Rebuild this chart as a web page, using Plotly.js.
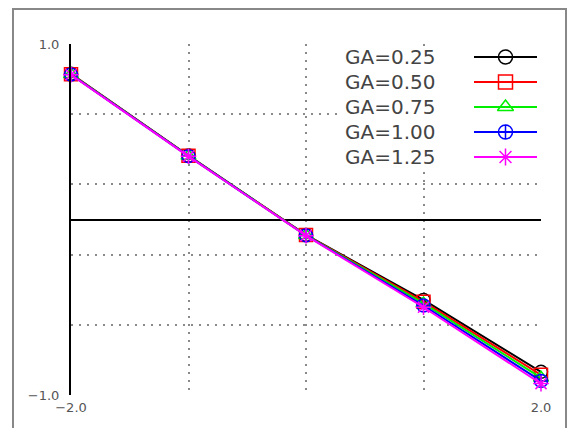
<!DOCTYPE html>
<html>
<head>
<meta charset="utf-8">
<script src="https://cdn.plot.ly/plotly-3.0.1.min.js"></script>
<style>html,body{margin:0;padding:0;background:#fff;}#chart{width:568px;height:428px;}</style>
</head>
<body>
<div id="chart"></div>
<script>
// ---- data ----
const stValues = [-2, -1, 0, 1, 2];
const seriesNames = ["GA=0.25", "GA=0.50", "GA=0.75", "GA=1.00", "GA=1.25"];
const cmGA025 = [0.830, 0.364, -0.088, -0.458, -0.868];
const cmGA050 = [0.828, 0.363, -0.089, -0.468, -0.885];
const cmGA075 = [0.827, 0.362, -0.090, -0.478, -0.902];
const cmGA100 = [0.826, 0.361, -0.091, -0.490, -0.920];
const cmGA125 = [0.825, 0.360, -0.092, -0.500, -0.935];
const xTickVals = [-2, -1, 0, 1, 2];
const xTickText = ["\u22122.0", "", "", "", "2.0"];
const yTickVals = [-1, -0.6, -0.2, 0.2, 0.6, 1];
const yTickText = ["\u22121.0", "", "", "", "", "1.0"];

// ---- styles ----
const seriesData = [cmGA025, cmGA050, cmGA075, cmGA100, cmGA125];
const colors = ["#000000", "#ff0000", "#00ee00", "#0000ff", "#ff00ff"];
const symbols = ["circle-open", "square-open", "triangle-up-open", "circle-cross-open", "asterisk-open"];
const textGray = "#555555";

// legend placement (pixel frame of overlay axes)
const legendCfg = { rowY0: 57, rowStep: 25, textRight: 437, lineX0: 474, lineX1: 537 };

const traces = [];
seriesData.forEach((ys, i) => {
  traces.push({
    x: stValues, y: ys, type: "scatter", mode: "lines+markers",
    name: seriesNames[i], showlegend: false,
    line: { color: colors[i], width: 2 },
    marker: { symbol: symbols[i], size: 13, color: colors[i], line: { width: 1.5, color: colors[i] } },
    cliponaxis: false
  });
});

// legend samples on a pixel overlay axis
const annotations = [];
seriesNames.forEach((n, i) => {
  const yy = legendCfg.rowY0 + i * legendCfg.rowStep;
  traces.push({
    x: [legendCfg.lineX0, legendCfg.lineX1], y: [yy, yy], xaxis: "x2", yaxis: "y2",
    type: "scatter", mode: "lines", showlegend: false, hoverinfo: "skip",
    line: { color: colors[i], width: 2 }
  });
  traces.push({
    x: [(legendCfg.lineX0 + legendCfg.lineX1) / 2], y: [yy], xaxis: "x2", yaxis: "y2",
    type: "scatter", mode: "markers", showlegend: false, hoverinfo: "skip",
    marker: { symbol: symbols[i], size: 14, color: colors[i], line: { width: 1.5, color: colors[i] } }
  });
  annotations.push({
    xref: "x2", yref: "y2", x: legendCfg.textRight, y: yy, xanchor: "right", yanchor: "middle",
    text: n, showarrow: false, font: { family: "DejaVu Sans, sans-serif", size: 20, color: "#444444" }
  });
});

annotations.push({
  xref: "x2", yref: "y2", x: 293, y: 20, text: "Cm", showarrow: false,
  xanchor: "center", yanchor: "middle",
  font: { family: "DejaVu Sans, sans-serif", size: 17, color: textGray }
});
annotations.push({
  xref: "x2", yref: "y2", x: 288, y: 419, text: "ST", showarrow: false,
  xanchor: "center", yanchor: "middle",
  font: { family: "DejaVu Sans, sans-serif", size: 14, color: textGray }
});

const gridDash = "2px,6px";
const gridColor = "#8a8a8a";
const layout = {
  width: 568, height: 428,
  margin: { l: 71, r: 27, t: 44, b: 33, pad: 0 },
  paper_bgcolor: "#ffffff", plot_bgcolor: "rgba(0,0,0,0)",
  showlegend: false,
  xaxis: {
    range: [-2, 2], tickvals: xTickVals, ticktext: xTickText,
    showgrid: true, gridcolor: gridColor, gridwidth: 2, griddash: gridDash,
    zeroline: false, showline: false, ticks: "", ticklen: 0, ticklabelstandoff: 3,
    tickfont: { family: "DejaVu Sans, sans-serif", size: 13, color: textGray },
    fixedrange: true
  },
  yaxis: {
    range: [-1, 1], tickvals: yTickVals, ticktext: yTickText,
    showgrid: true, gridcolor: gridColor, gridwidth: 2, griddash: gridDash,
    zeroline: true, zerolinecolor: "#000000", zerolinewidth: 2,
    showline: true, linecolor: "#000000", linewidth: 2,
    ticks: "", ticklen: 0, ticklabelstandoff: 7,
    tickfont: { family: "DejaVu Sans, sans-serif", size: 13, color: textGray },
    fixedrange: true
  },
  xaxis2: { range: [71, 541], domain: [0, 1], anchor: "y2", visible: false, fixedrange: true },
  yaxis2: { range: [395, 44], domain: [0, 1], anchor: "x2", visible: false, fixedrange: true },
  annotations: annotations,
  shapes: [
    {
      type: "rect", xref: "paper", yref: "paper",
      x0: (13 - 71) / 470, x1: (566 - 71) / 470,
      y0: (395 - 440) / 351, y1: (395 - 9) / 351,
      line: { color: "#888888", width: 2 }, fillcolor: "rgba(0,0,0,0)", layer: "below"
    },
    {
      // legend box: white background hiding the grid behind the legend
      type: "rect", xref: "x", yref: "y",
      x0: 0.27, x1: 1.97, y0: 0.28, y1: 0.985,
      line: { width: 0 }, fillcolor: "#ffffff", layer: "between"
    }
  ]
};

Plotly.newPlot("chart", traces, layout, { staticPlot: true, displayModeBar: false });
</script>
</body>
</html>
